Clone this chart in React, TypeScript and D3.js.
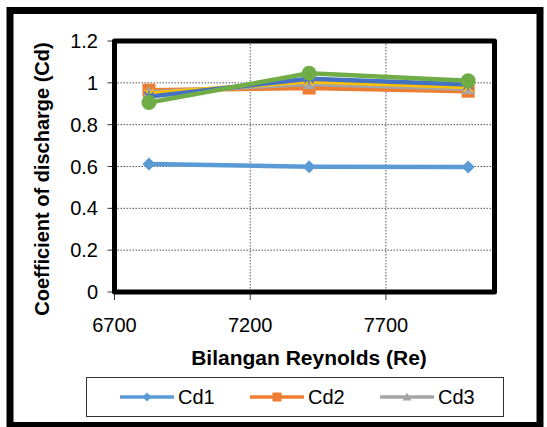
import React from "react";
import * as d3 from "d3";

const reynolds = [6827, 7417, 8003];
const seriesNames = ["Cd1", "Cd2", "Cd3", "Cd4", "Cd5", "Cd6"];
const cd1 = [0.612, 0.599, 0.598];
const cd2 = [0.965, 0.975, 0.96];
const cd3 = [0.955, 0.995, 0.972];
const cd4 = [0.948, 1.008, 0.98];
const cd5 = [0.934, 1.02, 0.992];
const cd6 = [0.906, 1.046, 1.01];
const xTicks = [6700, 7200, 7700];
const yTicks = [0, 0.2, 0.4, 0.6, 0.8, 1, 1.2];
const legendNames = ["Cd1", "Cd2", "Cd3"];

const colors = ["#5B9BD5", "#ED7D31", "#A5A5A5", "#FFC000", "#4472C4", "#70AD47"];
const markers = ["diamond", "square", "triangle", "x", "star", "circle"];

const W = 547, H = 427;
const plot = { left: 114.5, right: 494.5, top: 41, bottom: 292 };

function Marker({ type, x, y, color, s }: { type: string; x: number; y: number; color: string; s: number }) {
  const h = s / 2;
  if (type === "diamond") {
    return <path d={`M${x},${y - h}L${x + h},${y}L${x},${y + h}L${x - h},${y}Z`} fill={color} />;
  }
  if (type === "square") {
    return <rect x={x - h} y={y - h} width={s} height={s} fill={color} />;
  }
  if (type === "triangle") {
    return <path d={`M${x},${y - h}L${x + h},${y + h * 0.8}L${x - h},${y + h * 0.8}Z`} fill={color} />;
  }
  if (type === "circle") {
    return <circle cx={x} cy={y} r={h} fill={color} />;
  }
  if (type === "x") {
    const a = h * 0.8;
    return <path d={`M${x - a},${y - a}L${x + a},${y + a}M${x - a},${y + a}L${x + a},${y - a}`} stroke={color} strokeWidth={1.5} />;
  }
  const a = h * 0.8;
  return (
    <path
      d={`M${x - a},${y - a}L${x + a},${y + a}M${x - a},${y + a}L${x + a},${y - a}M${x},${y - h}L${x},${y + h}`}
      stroke={color}
      strokeWidth={1.5}
    />
  );
}

export default function App() {
  const x = d3.scaleLinear().domain([6700, 8100]).range([plot.left, plot.right]);
  const y = d3.scaleLinear().domain([0, 1.2]).range([plot.bottom, plot.top]);
  const allSeries = [cd1, cd2, cd3, cd4, cd5, cd6];
  const line = d3
    .line<number>()
    .x((_, i) => x(reynolds[i]))
    .y((d) => y(d));
  const font = "'Liberation Sans', Arial, sans-serif";
  const markerSizes = [13, 13, 13, 11, 11, 15];

  return (
    <svg width={W} height={H} style={{ position: "absolute", left: 0, top: 0 }} fontFamily={font}>
      <rect x={0} y={0} width={W} height={H} fill="#fff" />
      {yTicks.slice(1, -1).map((t) => (
        <line key={"gy" + t} x1={plot.left} x2={plot.right} y1={y(t)} y2={y(t)} stroke="#555" strokeWidth={1} strokeDasharray="1.5,1.5" />
      ))}
      {xTicks.slice(1).map((t) => (
        <line key={"gx" + t} x1={x(t)} x2={x(t)} y1={plot.top} y2={plot.bottom} stroke="#555" strokeWidth={1} strokeDasharray="1.5,1.5" />
      ))}
      {yTicks.map((t) => (
        <line key={"ty" + t} x1={plot.left - 7} x2={plot.left} y1={y(t)} y2={y(t)} stroke="#333" strokeWidth={1} />
      ))}
      {xTicks.map((t) => (
        <line key={"tx" + t} x1={x(t)} x2={x(t)} y1={plot.bottom} y2={plot.bottom + 8} stroke="#333" strokeWidth={1} />
      ))}
      <rect
        x={plot.left}
        y={plot.top}
        width={plot.right - plot.left}
        height={plot.bottom - plot.top}
        fill="none"
        stroke="#000"
        strokeWidth={5}
        strokeLinejoin="round"
      />
      {allSeries.map((s, si) => (
        <g key={seriesNames[si]}>
          <path d={line(s) || ""} fill="none" stroke={colors[si]} strokeWidth={4.5} strokeLinejoin="round" />
          {s.map((v, i) => (
            <Marker key={i} type={markers[si]} x={x(reynolds[i])} y={y(v)} color={colors[si]} s={markerSizes[si]} />
          ))}
        </g>
      ))}
      {yTicks.map((t) => (
        <text key={"ly" + t} x={98} y={y(t) + 7} textAnchor="end" fontSize={20} fill="#000">
          {d3.format("")(+t.toFixed(1))}
        </text>
      ))}
      {xTicks.map((t) => (
        <text key={"lx" + t} x={x(t)} y={332} textAnchor="middle" fontSize={20} fill="#000">
          {t}
        </text>
      ))}
      <text x={309} y={365} textAnchor="middle" fontSize={21} fontWeight="bold">
        Bilangan Reynolds (Re)
      </text>
      <text transform="translate(49,179) rotate(-90)" textAnchor="middle" fontSize={20} fontWeight="bold">
        Coefficient of discharge (Cd)
      </text>
      <rect x={86.5} y={377.5} width={417} height={39} fill="#fff" stroke="#333" strokeWidth={1} />
      {legendNames.map((n, i) => {
        const lx = 120 + i * 130;
        return (
          <g key={n}>
            <line x1={lx} x2={lx + 54} y1={397} y2={397} stroke={colors[i]} strokeWidth={3.5} />
            <Marker type={markers[i]} x={lx + 27} y={397} color={colors[i]} s={9} />
            <text x={lx + 58} y={404} fontSize={20}>
              {n}
            </text>
          </g>
        );
      })}
      <rect x={10} y={10.5} width={530} height={415} fill="none" stroke="#000" strokeWidth={7} />
    </svg>
  );
}
